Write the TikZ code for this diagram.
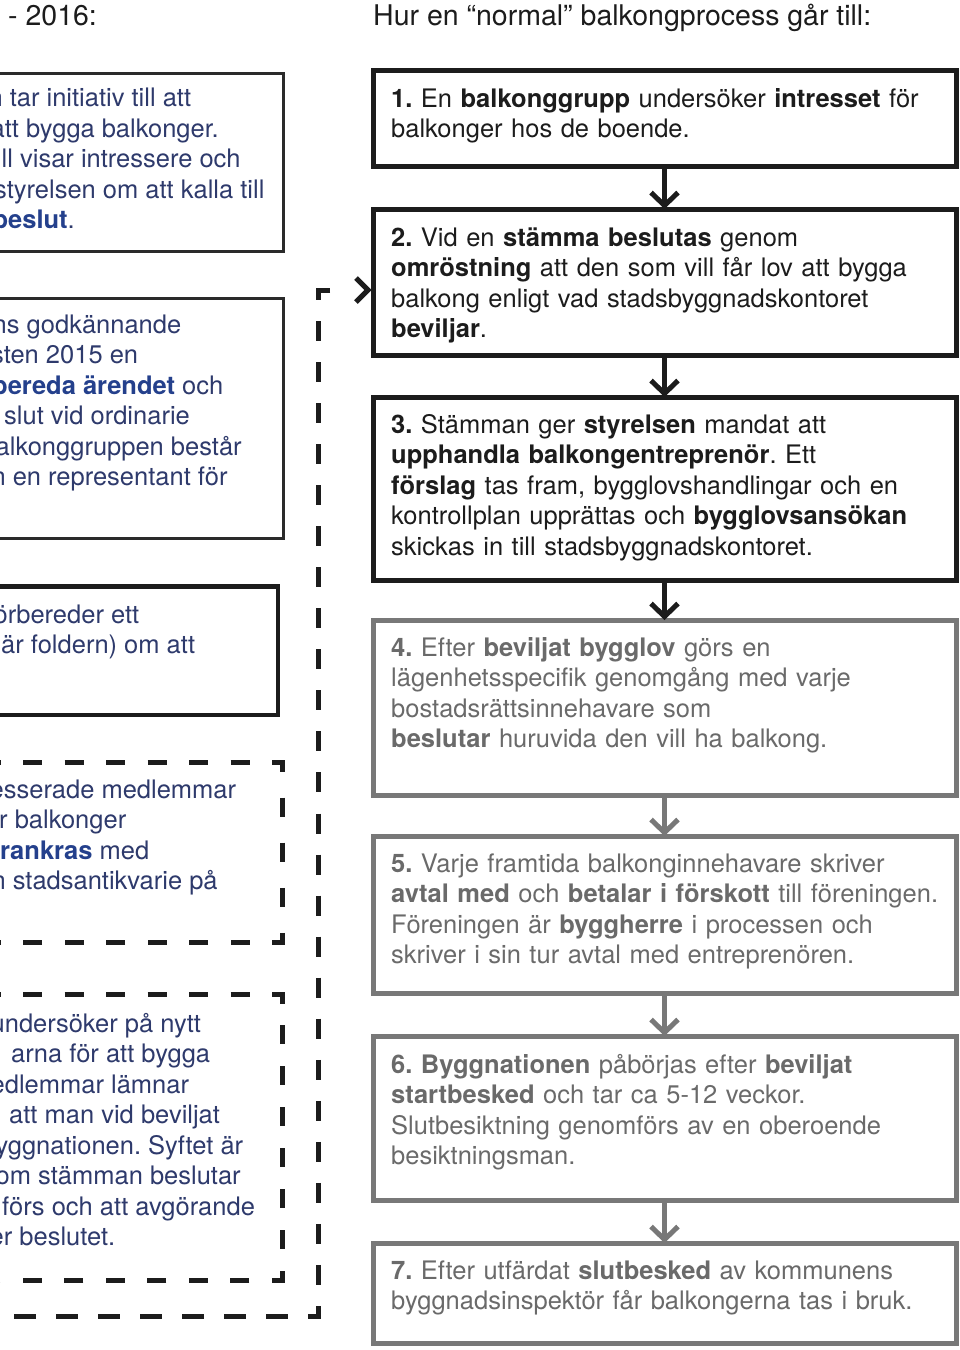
\documentclass[tikz,border=0pt]{standalone}
\usepackage{fontspec}
\setmainfont{TeX Gyre Heros}
\usetikzlibrary{arrows.meta}
\definecolor{navy}{HTML}{2E3A6C}
\definecolor{navyb}{HTML}{24408C}
\definecolor{ink}{HTML}{1C1C1C}
\definecolor{greytxt}{HTML}{6A6A6A}
\definecolor{greyline}{HTML}{787878}
\definecolor{lline}{HTML}{2A2A2A}
\newcommand{\nb}[1]{\textcolor{navyb}{\bfseries #1}}
\frenchspacing
\tikzset{
  bbox/.style={draw=ink, line width=5pt, inner sep=0pt, outer sep=0pt, anchor=north west, minimum width=583pt},
  gbox/.style={bbox, draw=greyline},
  rtext/.style={anchor=base west, inner sep=0pt, text width=565pt, align=left, font=\fontsize{25.5pt}{30.6pt}\selectfont, text=ink},
  gtext/.style={rtext, text=greytxt},
  ltext/.style={anchor=base west, inner sep=0pt, font=\fontsize{25.5pt}{30.6pt}\selectfont, text=navy},
  htext/.style={anchor=base west, inner sep=0pt, font=\fontsize{28.5pt}{30pt}\selectfont, text=ink},
  conn/.style={draw=ink, line width=5pt, -{Straight Barb[length=13pt,width=27pt]}},
  gconn/.style={conn, draw=greyline},
  lbox/.style={draw=lline, line width=3pt},
  dbox/.style={draw=ink, line width=5pt, line join=miter},
}
\begin{document}
\begin{tikzpicture}[x=1pt,y=-1pt]
\useasboundingbox (0,0) rectangle (960,1350);
\clip (0,0) rectangle (960,1350);
\fill[white] (0,0) rectangle (960,1350);

% headers
\node[htext] (h1) at (8,25) {- 2016:};
\node[htext] (h2) at (373,25) {Hur en “normal” balkongprocess går till:};

% right column boxes
\node[bbox, minimum height=96pt]  (b1) at (373,70) {};
\node[bbox, minimum height=146pt] (b2) at (373,209) {};
\node[bbox, minimum height=183pt] (b3) at (373,397) {};
\node[gbox, minimum height=175pt] (b4) at (373,620) {};
\node[gbox, minimum height=157pt] (b5) at (373,836) {};
\node[gbox, minimum height=164pt] (b6) at (373,1036) {};
\node[gbox, minimum height=100pt] (b7) at (373,1243) {};

\node[rtext] (t1) at (391,107) {\textbf{1.} En \textbf{balkonggrupp} undersöker \textbf{intresset} för\\balkonger hos de boende.};
\node[rtext] (t2) at (391,246) {\textbf{2.} Vid en \textbf{stämma beslutas} genom\\\textbf{omröstning} att den som vill får lov att bygga\\balkong enligt vad stadsbyggnadskontoret\\\textbf{beviljar}.};
\node[rtext] (t3) at (391,433) {\textbf{3.} Stämman ger \textbf{styrelsen} mandat att\\\textbf{upphandla balkongentreprenör}. Ett\\\textbf{förslag} tas fram, bygglovshandlingar och en\\kontrollplan upprättas och \textbf{bygglovsansökan}\\skickas in till stadsbyggnadskontoret.};
\node[gtext] (t4) at (391,656) {\textbf{4.} Efter \textbf{beviljat bygglov} görs en\\lägenhetsspecifik genomgång med varje\\bostadsrättsinnehavare som\\\textbf{beslutar} huruvida den vill ha balkong.};
\node[gtext] (t5) at (391,872) {\textbf{5.} Varje framtida balkonginnehavare skriver\\\textbf{avtal med} och \textbf{betalar i förskott} till föreningen.\\Föreningen är \textbf{byggherre} i processen och\\skriver i sin tur avtal med entreprenören.};
\node[gtext] (t6) at (391,1073) {\textbf{6. Byggnationen} påbörjas efter \textbf{beviljat}\\\textbf{startbesked} och tar ca 5-12 veckor.\\Slutbesiktning genomförs av en oberoende\\besiktningsman.};
\node[gtext] (t7) at (391,1279) {\textbf{7.} Efter utfärdat \textbf{slutbesked} av kommunens\\byggnadsinspektör får balkongerna tas i bruk.};

% connectors
\draw[conn]  (b1.south) -- (b2.north);
\draw[conn]  (b2.south) -- (b3.north);
\draw[conn]  (b3.south) -- (b4.north);
\draw[gconn] (b4.south) -- (b5.north);
\draw[gconn] (b5.south) -- (b6.north);
\draw[gconn] (b6.south) -- (b7.north);

% left column boxes
\draw[lbox] (-10,73.5) rectangle (283,251.5);
\draw[lbox] (-10,298.5) rectangle (283,538);
\draw[lbox, draw=ink, line width=4.5pt] (-10,586.5) rectangle (278,715);
\draw[dbox, dash pattern=on 19pt off 22.5pt on 19pt off 22.5pt on 19pt off 22.5pt on 19pt off 22.5pt on 19pt off 22.5pt on 19pt off 22.5pt on 19pt off 22.5pt
  on 19pt off 26.1pt on 19pt off 26.1pt on 19pt off 26.1pt on 19pt off 26.1pt
  on 19pt off 22.5pt on 19pt off 22.5pt on 19pt off 22.5pt on 19pt off 22.5pt on 19pt off 22.5pt on 19pt off 22.5pt on 19pt off 22.5pt on 19pt off 22.5pt on 19pt off 100pt]
  (-18.5,762.5) -- (282,762.5) -- (282,942) -- (-18.5,942);
\draw[dbox, dash pattern=on 19pt off 22.5pt on 19pt off 22.5pt on 19pt off 22.5pt on 19pt off 22.5pt on 19pt off 22.5pt on 19pt off 22.5pt on 19pt off 22.5pt
  on 19pt off 21.93pt on 19pt off 21.93pt on 19pt off 21.93pt on 19pt off 21.93pt on 19pt off 21.93pt on 19pt off 21.93pt on 19pt off 21.93pt
  on 19pt off 22.5pt on 19pt off 22.5pt on 19pt off 22.5pt on 19pt off 22.5pt on 19pt off 22.5pt on 19pt off 22.5pt on 19pt off 22.5pt on 19pt off 22.5pt on 19pt off 100pt]
  (-18.5,994.5) -- (282,994.5) -- (282,1280) -- (-18.5,1280);

% outer dashed loop line
\coordinate (loopstart) at (330,290);
\coordinate (loopend) at (-20,1316);
\draw[dbox, dash pattern=on 21.5pt off 21.04pt
  on 20pt off 21.04pt on 20pt off 21.04pt on 20pt off 21.04pt on 20pt off 21.04pt on 20pt off 21.04pt on 20pt off 21.04pt
  on 20pt off 21.04pt on 20pt off 21.04pt on 20pt off 21.04pt on 20pt off 21.04pt on 20pt off 21.04pt on 20pt off 21.04pt
  on 20pt off 21.04pt on 20pt off 21.04pt on 20pt off 21.04pt on 20pt off 21.04pt on 20pt off 21.04pt on 20pt off 21.04pt
  on 20pt off 21.04pt on 20pt off 21.04pt on 20pt off 21.04pt on 20pt off 21.04pt on 20pt off 21.04pt on 20pt off 21.04pt
  on 21pt off 20pt on 22pt off 20pt on 22pt off 20pt on 22pt off 20pt on 22pt off 20pt on 22pt off 20pt on 22pt off 20pt on 22pt off 20pt on 22pt off 100pt]
  (loopstart) -- (318.5,290) -- (318.5,1316) -- (loopend);
\draw[draw=ink, line width=5pt, line join=miter] (356,278) -- (368,290) -- (356,302);

% left column text
\node[ltext] (la1) at (-11.7,106.7) {n tar initiativ till att};
\node[ltext] (la2) at (-9.5,137.2) {att bygga balkonger.};
\node[ltext] (la3) at (1.5,167.7) {ll visar intressere och};
\node[ltext] (la4) at (-6,198.2) {styrelsen om att kalla till};
\node[ltext] (la5) at (-7.6,228.7) {\nb{beslut}.};

\node[ltext] (lb1) at (-7.5,333) {ns godkännande};
\node[ltext] (lb2) at (-9,363.5) {sten 2015 en};
\node[ltext] (lb3) at (-8,394) {\nb{bereda ärendet} och};
\node[ltext] (lb4) at (4,424.5) {slut vid ordinarie};
\node[ltext] (lb5) at (-4.5,455) {alkonggruppen består};
\node[ltext] (lb6) at (-8.7,485.5) {n en representant för};

\node[ltext] (lc1) at (-6.5,623) {örbereder ett};
\node[ltext] (lc2) at (1,653.5) {är foldern) om att};

\node[ltext] (ld1) at (-10.5,798) {esserade medlemmar};
\node[ltext] (ld2) at (-1,828.5) {r balkonger};
\node[ltext] (ld3) at (0,859) {\nb{rankras} med};
\node[ltext] (ld4) at (-8.7,889.5) {n stadsantikvarie på};

\node[ltext] (le1) at (-9.5,1032) {undersöker på nytt};
\node[ltext] (le2) at (11,1062.5) {arna för att bygga};
\node[ltext] (le3) at (-9.5,1093) {edlemmar lämnar};
\node[ltext] (le4) at (9,1123.5) {att man vid beviljat};
\node[ltext] (le5) at (-4.7,1154) {yggnationen. Syftet är};
\node[ltext] (le6) at (-4.5,1184.5) {om stämman beslutar};
\node[ltext] (le7) at (2,1215) {förs och att avgörande};
\node[ltext] (le8) at (-10.5,1245.5) {er beslutet.};
\end{tikzpicture}
\end{document}
